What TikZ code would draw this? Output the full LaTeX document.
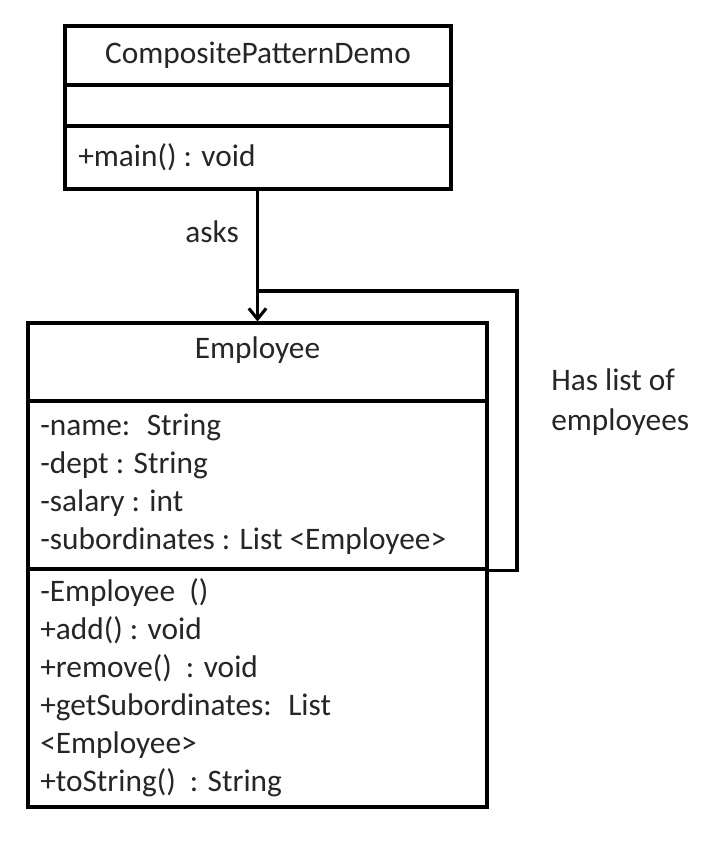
\documentclass[tikz,border=0pt]{standalone}
\usepackage{fontspec}
\setmainfont{Carlito}
\usepackage{tikz}
\usetikzlibrary{arrows.meta, positioning, calc}

\tikzset{
    classbox/.style={rectangle,draw=black,fill=white,line width=2.3pt,inner sep=0pt},
    classtext/.style={inner sep=0pt,text=black!85,font=\fontsize{23.5}{28.5}\selectfont,align=left},
    link/.style={line width=2.3pt},
}

\begin{document}
\begin{tikzpicture}[x=0.75pt,y=-0.75pt]
    \useasboundingbox (0,0) rectangle (720,846);

    % Classe CompositePatternDemo
    \node[classbox,minimum width=386*0.75pt,minimum height=59*0.75pt] (demo-t) at (258,55.5) {};
    \node[classbox,minimum width=386*0.75pt,minimum height=41*0.75pt] (demo-a) at (258,105.5) {};
    \node[classbox,minimum width=386*0.75pt,minimum height=63*0.75pt] (demo-m) at (258,157.5) {};
    \node[classtext] (demo-name) at (258,55.5) {CompositePatternDemo};
    \node[classtext,anchor=west] (demo-ops) at (78,157.5) {+main() : void};

    % Classe Employee
    \node[classbox,minimum width=459*0.75pt,minimum height=78*0.75pt] (emp-t) at (257.5,362) {};
    \node[classbox,minimum width=459*0.75pt,minimum height=168*0.75pt] (emp-a) at (257.5,485) {};
    \node[classbox,minimum width=459*0.75pt,minimum height=238*0.75pt] (emp-m) at (257.5,688) {};
    \node[classtext] (emp-name) at (257.5,350) {Employee};
    \node[classtext,anchor=west] (emp-attr) at (40,484.5) {
        -name:~ String\\
        -dept : String\\
        -salary : int\\
        -subordinates : List <Employee>
    };
    \node[classtext,anchor=west] (emp-ops) at (40,687.5) {
        -Employee~ ()\\
        +add() : void\\
        +remove() ~: void\\
        +getSubordinates:~ List\\
        <Employee>\\
        +toString() ~: String
    };

    % Associazioni
    \draw[link,-{Straight Barb[length=8pt,width=13pt]}] (demo-m.south -| emp-t.north) -- (emp-t.north);
    \node[classtext] (asks) at (212,232) {asks};

    \coordinate (join) at (257,291);
    \coordinate (loop) at (517,291);
    \draw[link] (emp-a.south east) -| (loop) -- (join);
    \node[classtext,anchor=west,font=\fontsize{23.5}{30.5}\selectfont] (haslist) at (551,402) {Has list of\\employees};
\end{tikzpicture}
\end{document}
